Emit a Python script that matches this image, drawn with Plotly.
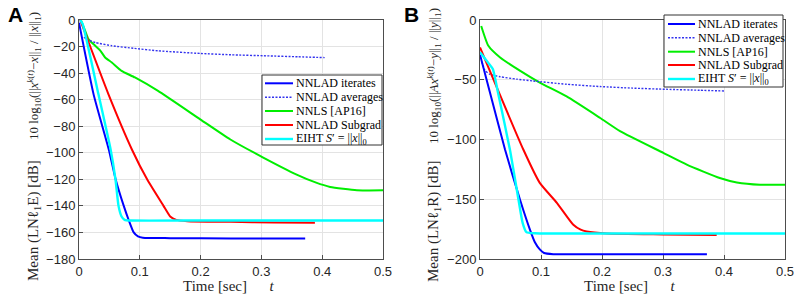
import plotly.graph_objects as go

W, H = 796, 299

# ---------------- data ----------------
# Panel A
a_iter_t = [0, 0.024, 0.049, 0.060, 0.0736, 0.082, 0.090, 0.097, 0.105, 0.15, 0.25, 0.372]
a_iter_v = [-2, -56, -97.5, -119.5, -140, -151, -160, -163, -164, -164.3, -164.5, -164.5]
a_avg_t = [0.008, 0.015, 0.027, 0.054, 0.09, 0.13, 0.2, 0.25, 0.309, 0.36, 0.404]
a_avg_v = [-13, -15, -17, -19.4, -21.3, -23.2, -25.2, -26.2, -27, -27.7, -28.3]
a_nnls_t = [0.003, 0.01, 0.0156, 0.0266, 0.035, 0.043, 0.054, 0.07, 0.092, 0.13, 0.2, 0.249, 0.303, 0.358, 0.39, 0.413, 0.457, 0.5]
a_nnls_v = [0, -8, -14.4, -19.4, -23, -28.2, -32, -38.3, -43.3, -53.4, -75, -90, -103.6, -116.4, -122.5, -125.7, -128.3, -128.3]
a_sub_t = [0.002, 0.0485, 0.087, 0.112, 0.139, 0.150, 0.160, 0.178, 0.25, 0.32, 0.388]
a_sub_v = [0, -56, -97.5, -120, -140, -148, -150.5, -151.5, -152, -152.5, -152.7]
a_eiht_t = [0.002, 0.006, 0.032, 0.052, 0.060, 0.065, 0.070, 0.075, 0.085, 0.2, 0.35, 0.5]
a_eiht_v = [0, -3, -56, -97.5, -120, -140, -148, -150.5, -151, -151, -151, -151]

# Panel B
b_iter_t = [0, 0.016, 0.041, 0.0656, 0.082, 0.090, 0.098, 0.105, 0.12, 0.2, 0.3, 0.372]
b_iter_v = [-29, -60, -108.4, -150.4, -175.6, -186, -192, -195, -196, -196, -196, -196]
b_avg_t = [0.003, 0.008, 0.016, 0.033, 0.06, 0.087, 0.142, 0.197, 0.25, 0.306, 0.36, 0.402]
b_avg_v = [-35, -42, -45.4, -47.5, -49.5, -51, -53.8, -55.7, -57, -58, -58.8, -59.4]
b_nnls_t = [0.002, 0.0137, 0.033, 0.066, 0.098, 0.142, 0.197, 0.2295, 0.3005, 0.339, 0.393, 0.421, 0.459, 0.5]
b_nnls_v = [-5, -21.6, -31.4, -42.6, -52.4, -64, -82, -93, -111.2, -121, -132.2, -135.9, -137.8, -137.8]
b_sub_t = [0, 0.071, 0.098, 0.126, 0.153, 0.165, 0.175, 0.208, 0.3, 0.388]
b_sub_v = [-23, -108.4, -136.3, -153, -171.4, -175.5, -177, -178.6, -179.4, -180]
b_eiht_t = [0, 0.013, 0.021, 0.03, 0.049, 0.063, 0.070, 0.076, 0.09, 0.2, 0.35, 0.5]
b_eiht_v = [-27, -35.5, -41, -62, -108.4, -150, -170, -177.5, -178.5, -178.6, -178.6, -178.6]

x_ticks = [0, 0.1, 0.2, 0.3, 0.4, 0.5]
a_y_ticks = [0, -20, -40, -60, -80, -100, -120, -140, -160, -180]
b_y_ticks = [0, -50, -100, -150, -200]

names = ["NNLAD iterates", "NNLAD averages", "NNLS [AP16]", "NNLAD Subgrad",
         "EIHT <i>S</i>′ = ||<i>x</i>||<sub>0</sub>"]
colors = ["#0000ff", "#3333ee", "#00ee00", "#ff0000", "#00ffff"]
dashes = ["solid", "2px,1.5px", "solid", "solid", "solid"]
widths = [2, 1.4, 2, 2, 2.4]

# ---------------- figure ----------------
def px(x):
    return x / W

def py(y):
    return 1 - y / H

fig = go.Figure()

panelA = [(a_iter_t, a_iter_v), (a_avg_t, a_avg_v), (a_nnls_t, a_nnls_v), (a_sub_t, a_sub_v), (a_eiht_t, a_eiht_v)]
panelB = [(b_iter_t, b_iter_v), (b_avg_t, b_avg_v), (b_nnls_t, b_nnls_v), (b_sub_t, b_sub_v), (b_eiht_t, b_eiht_v)]

order = [2, 1, 3, 0, 4]
for i in order:
    t, v = panelA[i]
    fig.add_trace(go.Scatter(x=t, y=v, mode="lines", name=names[i], showlegend=False,
                             line=dict(color=colors[i], width=widths[i], dash=dashes[i], shape="spline", smoothing=0.5),
                             xaxis="x", yaxis="y"))
for i in order:
    t, v = panelB[i]
    fig.add_trace(go.Scatter(x=t, y=v, mode="lines", name=names[i], showlegend=False,
                             line=dict(color=colors[i], width=widths[i], dash=dashes[i], shape="spline", smoothing=0.5),
                             xaxis="x2", yaxis="y2"))

ydom = [py(259), py(20)]
axis_common = dict(showgrid=True, gridcolor="#e3e3e3", gridwidth=1, zeroline=False,
                   showline=True, linecolor="#4d4d4d", linewidth=1, mirror=True,
                   ticks="inside", ticklen=4, tickcolor="#4d4d4d",
                   tickfont=dict(family="Liberation Sans", size=13, color="#262626"),
                   automargin=False)

fig.update_layout(
    width=W, height=H, margin=dict(l=0, r=0, t=0, b=0),
    paper_bgcolor="white", plot_bgcolor="white", showlegend=False,
    xaxis=dict(domain=[px(79), px(383)], range=[0, 0.5], tickvals=x_ticks,
               ticktext=[str(v) for v in x_ticks], anchor="y", **axis_common),
    yaxis=dict(domain=ydom, range=[-180, 0], tickvals=a_y_ticks, anchor="x", **axis_common),
    xaxis2=dict(domain=[px(480), px(785)], range=[0, 0.5], tickvals=x_ticks,
                ticktext=[str(v) for v in x_ticks], anchor="y2", **axis_common),
    yaxis2=dict(domain=ydom, range=[-200, 0], tickvals=b_y_ticks, anchor="x2", **axis_common),
)

serif = "Liberation Serif"
ann = []
shapes = []

# panel letters
ann.append(dict(text="<b>A</b>", x=px(6), y=py(1), xref="paper", yref="paper", xanchor="left", yanchor="top",
                showarrow=False, font=dict(family="Liberation Sans", size=21, color="black")))
ann.append(dict(text="<b>B</b>", x=px(402), y=py(1), xref="paper", yref="paper", xanchor="left", yanchor="top",
                showarrow=False, font=dict(family="Liberation Sans", size=21, color="black")))

# x titles
for cx in [229, 630]:
    ann.append(dict(text="Time [sec]      <i>t</i>", x=px(cx), y=py(286), xref="paper", yref="paper",
                    xanchor="center", yanchor="middle", showarrow=False,
                    font=dict(family=serif, size=15, color="#262626")))

# y titles
ytitles = [
    (34, "Mean (LNℓ<sub>1</sub>E) [dB]", "10 log<sub>10</sub>(||<i>x</i><sup><i>k</i>(<i>t</i>)</sup>−<i>x</i>||<sub>1</sub> / ||<i>x</i>||<sub>1</sub>)"),
    (434, "Mean (LNℓ<sub>1</sub>R) [dB]", "10 log<sub>10</sub>(||<i>Ax</i><sup><i>k</i>(<i>t</i>)</sup>−<i>y</i>||<sub>1</sub> / ||<i>y</i>||<sub>1</sub>)"),
]
for cx, low, high in ytitles:
    ann.append(dict(text=low, x=px(cx), y=py(221), xref="paper", yref="paper", textangle=-90,
                    xanchor="center", yanchor="middle", showarrow=False,
                    font=dict(family=serif, size=15, color="#262626")))
    ann.append(dict(text=high, x=px(cx), y=py(76), xref="paper", yref="paper", textangle=-90,
                    xanchor="center", yanchor="middle", showarrow=False,
                    font=dict(family=serif, size=13, color="#262626")))

# legends (drawn boxes)
legends = [
    dict(x0=262, x1=382, y0=75, y1=145, lx0=265, lx1=293, rows=[83.3, 97.3, 111, 125, 139]),
    dict(x0=664, x1=783, y0=15, y1=87, lx0=668, lx1=695, rows=[24, 37.7, 51.7, 65, 79]),
]
for lg in legends:
    shapes.append(dict(type="rect", xref="paper", yref="paper", x0=px(lg["x0"]), x1=px(lg["x1"]),
                       y0=py(lg["y1"]), y1=py(lg["y0"]), fillcolor="white", line=dict(color="#333333", width=1),
                       layer="above"))
    for i, ry in enumerate(lg["rows"]):
        shapes.append(dict(type="line", xref="paper", yref="paper", x0=px(lg["lx0"]), x1=px(lg["lx1"]),
                           y0=py(ry), y1=py(ry), layer="above",
                           line=dict(color=colors[i], width=widths[i], dash=dashes[i])))
        ann.append(dict(text=names[i], x=px(lg["lx1"] + 1), y=py(ry), xref="paper", yref="paper",
                        xanchor="left", yanchor="middle", showarrow=False,
                        font=dict(family=serif, size=12, color="black")))

fig.update_layout(annotations=ann, shapes=shapes)
fig.write_html("out.html", config={"displayModeBar": False},
               post_script="document.body.style.margin='0';document.body.style.padding='0';")
